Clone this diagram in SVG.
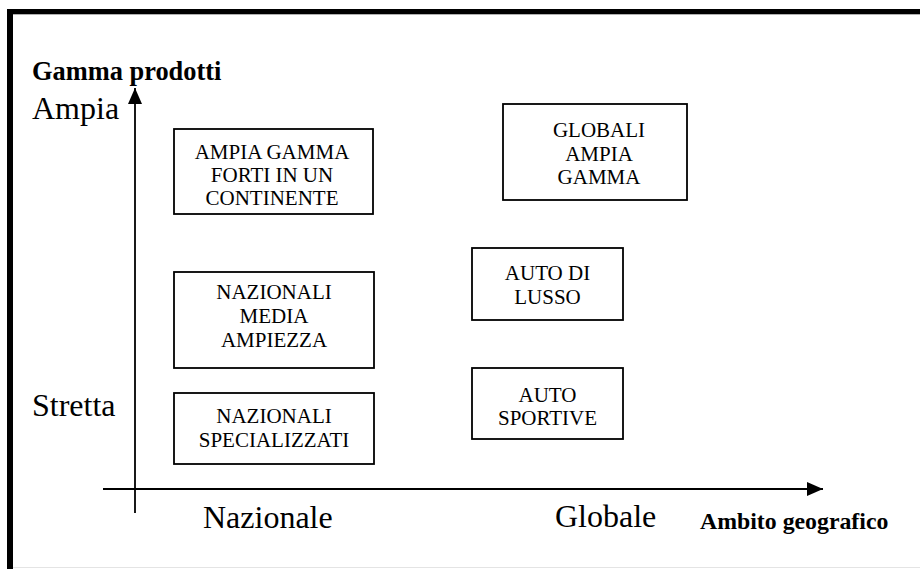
<svg xmlns="http://www.w3.org/2000/svg" width="920" height="569" viewBox="0 0 920 569">
  <style>
    .box { fill: #ffffff; stroke: #000000; stroke-width: 1.8; }
    .lbl { font-family: "Liberation Serif", "Times New Roman", serif; font-size: 21px; fill: #000000; text-anchor: middle; }
    .axis-word { font-family: "Liberation Serif", "Times New Roman", serif; font-size: 32px; fill: #000000; }
    .axis-title { font-family: "Liberation Serif", "Times New Roman", serif; font-weight: bold; fill: #000000; }
    .axis { stroke: #000000; stroke-width: 1.8; fill: none; }
  </style>
  <defs>
    <marker id="arrow" markerUnits="userSpaceOnUse" markerWidth="17" markerHeight="16" refX="16" refY="8" orient="auto">
      <path d="M0,1 L16,8 L0,15 z" fill="#000000"/>
    </marker>
  </defs>

  <!-- page background and frame -->
  <rect x="0" y="0" width="920" height="569" fill="#ffffff"/>
  <path d="M7,9 H920 V14 H13 V569 H7 z" fill="#000000"/>
  <line x1="13" y1="14.5" x2="920" y2="14.5" stroke="#b0b0b0" stroke-width="1"/>
  <line x1="13" y1="567.5" x2="920" y2="567.5" stroke="#e4e4e4" stroke-width="1"/>

  <!-- axes -->
  <g id="connectors">
    <line class="axis" x1="135" y1="513" x2="135" y2="88" marker-end="url(#arrow)"/>
    <line class="axis" x1="103" y1="489" x2="823" y2="489" marker-end="url(#arrow)"/>
  </g>

  <!-- axis captions -->
  <g id="axis-labels">
    <text class="axis-title" x="32" y="80" font-size="26.4">Gamma prodotti</text>
    <text class="axis-word" x="32" y="119">Ampia</text>
    <text class="axis-word" x="32" y="416">Stretta</text>
    <text class="axis-word" x="203" y="528">Nazionale</text>
    <text class="axis-word" x="555" y="527">Globale</text>
    <text class="axis-title" x="700" y="529" font-size="23.8">Ambito geografico</text>
  </g>

  <!-- strategic groups -->
  <g id="ampia-gamma-continente">
    <rect class="box" x="174" y="129" width="199" height="85"/>
    <text class="lbl" x="272" y="159" font-size="20">AMPIA GAMMA</text>
    <text class="lbl" x="272" y="182" font-size="20">FORTI IN UN</text>
    <text class="lbl" x="272" y="205" font-size="20">CONTINENTE</text>
  </g>

  <g id="globali-ampia-gamma">
    <rect class="box" x="503" y="104" width="184" height="96"/>
    <text class="lbl" x="599" y="137">GLOBALI</text>
    <text class="lbl" x="599" y="160.5">AMPIA</text>
    <text class="lbl" x="599" y="184">GAMMA</text>
  </g>

  <g id="auto-di-lusso">
    <rect class="box" x="472" y="248" width="151" height="72"/>
    <text class="lbl" x="547.5" y="280">AUTO DI</text>
    <text class="lbl" x="547.5" y="304">LUSSO</text>
  </g>

  <g id="nazionali-media-ampiezza">
    <rect class="box" x="174" y="272" width="200" height="96"/>
    <text class="lbl" x="274" y="299">NAZIONALI</text>
    <text class="lbl" x="274" y="323">MEDIA</text>
    <text class="lbl" x="274" y="346.5">AMPIEZZA</text>
  </g>

  <g id="auto-sportive">
    <rect class="box" x="472" y="368" width="151" height="71"/>
    <text class="lbl" x="547.5" y="401.5">AUTO</text>
    <text class="lbl" x="547.5" y="425">SPORTIVE</text>
  </g>

  <g id="nazionali-specializzati">
    <rect class="box" x="174" y="393" width="200" height="71"/>
    <text class="lbl" x="274" y="423">NAZIONALI</text>
    <text class="lbl" x="274" y="446.5">SPECIALIZZATI</text>
  </g>
</svg>
